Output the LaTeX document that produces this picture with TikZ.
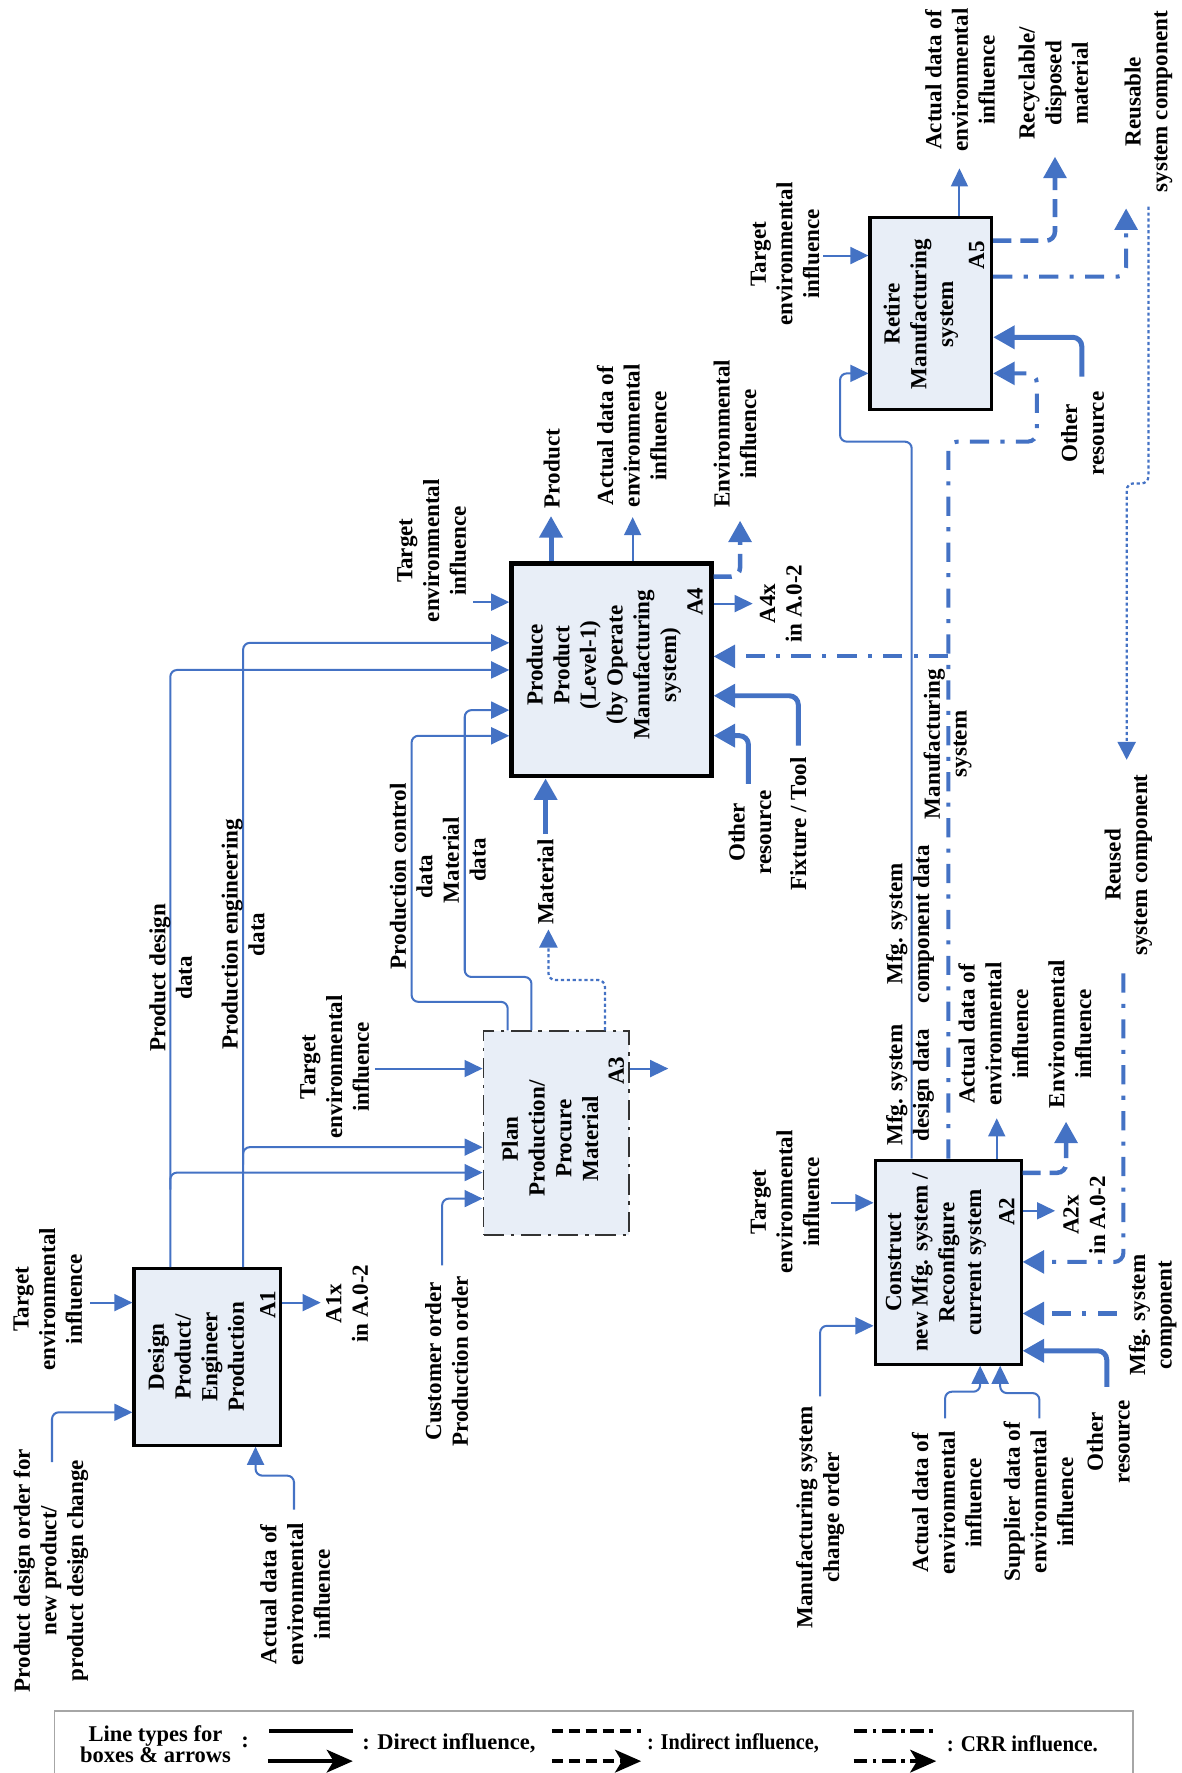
\documentclass[tikz,border=0pt]{standalone}
\usepackage{fontspec}
\setmainfont{Liberation Serif}
\usetikzlibrary{arrows.meta}
\definecolor{myblue}{RGB}{68,114,196}
\definecolor{boxfill}{RGB}{232,238,247}
\newcommand\lblfont{\bfseries\fontsize{10.2}{11.8}\selectfont}
\newcommand\legfont{\bfseries\fontsize{9.95}{9.7}\selectfont}
\tikzset{
  procbox/.style={draw=black, fill=boxfill, inner sep=0pt},
  thinarrow/.style={draw=myblue, line width=0.9pt, rounded corners=3pt, -{Triangle[length=8pt,width=7.5pt]}},
  thinline/.style={draw=myblue, line width=0.9pt, rounded corners=3pt},
  thickarrow/.style={draw=myblue, line width=2.2pt, rounded corners=4pt, -{Triangle[length=9.5pt,width=10pt]}},
  crr/.style={draw=myblue, line width=1.8pt, dash pattern=on 8.5pt off 5pt on 1.8pt off 5pt, rounded corners=4pt},
  crrarrow/.style={crr, -{Triangle[length=9.5pt,width=10pt]}},
  indirect/.style={draw=myblue, line width=2pt, dash pattern=on 8pt off 4pt, rounded corners=4pt, -{Triangle[length=9.5pt,width=10pt]}},
  dotarrow/.style={draw=myblue, line width=1pt, dash pattern=on 1.4pt off 1.2pt, rounded corners=3pt, -{Triangle[length=8pt,width=8pt]}},
  lbl/.style={font=\lblfont, align=center, rotate=90, inner sep=0pt},
  legtext/.style={font=\legfont, align=center, inner sep=0pt},
}
\begin{document}
\begin{tikzpicture}[x=0.5pt, y=-0.5pt]
\useasboundingbox (0,0) rectangle (1044.5,1568);

% ---------------- boxes ----------------
\node[procbox, line width=1.4pt, minimum width=64.75pt, minimum height=78pt] (A1) at (183.25,1200) {};
\node[procbox, draw=black!80, line width=0.8pt, dash pattern=on 9pt off 3pt on 1.5pt off 3pt,
      minimum width=64.5pt, minimum height=90.25pt] (A3) at (492.1,1002.2) {};
\node[procbox, line width=2.1pt, minimum width=88.25pt, minimum height=93.9pt] (A4) at (540.75,592.4) {};
\node[procbox, line width=1.35pt, minimum width=53.8pt, minimum height=84.9pt] (A5) at (823.2,277.1) {};
\node[procbox, line width=1.35pt, minimum width=64.55pt, minimum height=90.2pt] (A2) at (838.45,1116.2) {};

% box texts
\node[lbl] (A1t) at (173.4,1200) {Design\\Product/\\Engineer\\Production};
\node[lbl] (A3t) at (486.5,1007) {Plan\\Production/\\Procure\\Material};
\node[lbl] (A4t) at (534,588) {Produce\\Product\\(Level-1)\\(by Operate\\Manufacturing\\system)};
\node[lbl] (A5t) at (814.4,277.8) {Retire\\Manufacturing\\system};
\node[lbl] (A2t) at (827.7,1116.5) {Construct\\new Mfg. system /\\Reconfigure\\current system};
\node[lbl] (A1n) at (236.9,1154) {A1};
\node[lbl] (A3n) at (545,947) {A3};
\node[lbl] (A4n) at (614.7,532) {A4};
\node[lbl] (A5n) at (863.8,225.5) {A5};
\node[lbl] (A2n) at (890.4,1071.6) {A2};

% ---------------- A1 connectors ----------------
\draw[thinarrow] (80,1152) -- (A1.west |- 0,1152);
\draw[thinarrow] (46,1293) |- (A1.west |- 0,1249);
\draw[thinarrow] (260,1335) -- (260,1305) -| (A1.south -| 226,0);
\draw[thinarrow] (A1.east |- 0,1152) -- (283.6,1152);
\draw[thinarrow] (A1.north -| 150.6,0) |- (A4.west |- 0,592.5);
\draw[thinarrow] (150.6,1052) |- (A3.west |- 0,1037);
\draw[thinarrow] (A1.north -| 215,0) |- (A4.west |- 0,568.5);
\draw[thinarrow] (215,1030) |- (A3.west |- 0,1014.5);

% ---------------- A3 connectors ----------------
\draw[thinarrow] (391,1119) |- (A3.west |- 0,1060);
\draw[thinarrow] (331.6,945) -- (A3.west |- 0,945);
\draw[thinarrow] (A3.east |- 0,945) -- (591,945);
\draw[thinarrow] (A3.north -| 449,0) |- (364,886) |- (A4.west |- 0,650.7);
\draw[thinarrow] (A3.north -| 470,0) |- (411,864) |- (A4.west |- 0,628);
\draw[dotarrow] (A3.north -| 535,0) |- (485,866.7) -- (485,822);
\draw[thickarrow] (482.5,737.7) -- (A4.south -| 482.5,0);

% ---------------- A4 connectors ----------------
\draw[thinarrow] (418.7,532.5) -- (A4.west |- 0,532.5);
\draw[thickarrow] (A4.north -| 487.3,0) -- (487.3,456.4);
\draw[thinarrow] (A4.north -| 559.5,0) -- (559.5,457.3);
\draw[indirect] (A4.east |- 0,510) -| (654.5,460.5);
\draw[thinarrow] (A4.east |- 0,533.8) -- (665.7,533.8);
\draw[crrarrow] (838.7,580.5) -- (A4.east |- 0,580.5);
\draw[thickarrow] (706,659.5) |- (A4.east |- 0,615.3);
\draw[thickarrow] (661.9,693.3) |- (A4.east |- 0,650.6);

% ---------------- A2 connectors ----------------
\draw[thinarrow] (734.7,1063.7) -- (A2.west |- 0,1063.7);
\draw[thinarrow] (725.3,1235) |- (A2.west |- 0,1172.5);
\draw[thinarrow] (835.8,1254.4) |- (866.8,1230.8) -- (A2.south -| 866.8,0);
\draw[thinarrow] (919.2,1254.4) |- (884.5,1232) -- (A2.south -| 884.5,0);
\draw[thickarrow] (978.8,1226.4) |- (A2.east |- 0,1194.6);
\draw[crrarrow] (987.6,1161.6) -- (A2.east |- 0,1161.6);
\draw[crrarrow] (993.5,860.8) |- (A2.east |- 0,1116);
\draw[thinarrow] (A2.east |- 0,1070.8) -- (933.1,1070.8);
\draw[indirect] (A2.east |- 0,1037.2) -| (942.8,992);
\draw[thinarrow] (A2.north -| 881.5,0) -- (881.5,989);
\draw[thinarrow] (A2.north -| 806.3,0) |- (742.9,390.6) |- (A5.west |- 0,330.2);
\draw[crrarrow] (A2.north -| 838.7,0) |- (916.9,390.6) |- (A5.east |- 0,330.2);

% ---------------- A5 connectors ----------------
\draw[thinarrow] (728.2,226) -- (A5.west |- 0,226);
\draw[thinarrow] (A5.north -| 848.5,0) -- (848.5,148.9);
\draw[indirect] (A5.east |- 0,212.9) -| (933,138.6);
\draw[crrarrow] (A5.east |- 0,244.7) -| (995.9,184.3);
\draw[thickarrow] (956.7,333) |- (A5.east |- 0,298.3);
\draw[dotarrow] (1015.6,182.8) |- (996.4,427.5) -- (996.4,672);

% ---------------- labels ----------------
\node[lbl] (tA1) at (42.3,1149) {Target\\environmental\\influence};
\node[lbl] (pdo) at (45,1389) {Product design order for\\new product/\\product design change};
\node[lbl] (adA1) at (261,1410) {Actual data of\\environmental\\influence};
\node[lbl] (a1x) at (307,1153) {A1x\\in A.0-2};
\node[lbl] (pdd) at (151,864.7) {Product design\\data};
\node[lbl] (ped) at (215,826.4) {Production engineering\\data};
\node[lbl] (tA3) at (296,943.5) {Target\\environmental\\influence};
\node[lbl] (cust) at (395,1204) {Customer order\\Production order};
\node[lbl] (pcd) at (363.7,775) {Production control\\data};
\node[lbl] (md) at (410.7,760.7) {Material\\data};
\node[lbl] (mat) at (482.5,780) {Material};
\node[lbl] (tA4) at (381.8,487) {Target\\environmental\\influence};
\node[lbl] (prod) at (488,414.4) {Product};
\node[lbl] (adA4) at (558.7,385.3) {Actual data of\\environmental\\influence};
\node[lbl] (eiA4) at (650,383.7) {Environmental\\influence};
\node[lbl] (a4x) at (690.6,533.8) {A4x\\in A.0-2};
\node[lbl] (orA4) at (663.3,736) {Other\\resource};
\node[lbl] (fix) at (706,728.7) {Fixture / Tool};
\node[lbl] (tA5) at (694.3,224.7) {Target\\environmental\\influence};
\node[lbl] (adA5) at (849,70.8) {Actual data of\\environmental\\influence};
\node[lbl] (rec) at (931.6,73.7) {Recyclable/\\disposed\\material};
\node[lbl] (reus) at (1015.6,90) {Reusable\\system component};
\node[lbl] (orA5) at (957.4,383.3) {Other\\resource};
\node[lbl] (ms) at (838,658) {Manufacturing\\system};
\node[lbl] (mscd) at (804.8,817.2) {Mfg. system\\component data};
\node[lbl] (msdd) at (804.8,959.6) {Mfg. system\\design data};
\node[lbl] (adA2o) at (878.5,914.5) {Actual data of\\environmental\\influence};
\node[lbl] (eiA2) at (946.2,914.5) {Environmental\\influence};
\node[lbl] (rused) at (997.9,765) {Reused\\system component};
\node[lbl] (tA2) at (694.3,1062.8) {Target\\environmental\\influence};
\node[lbl] (a2x) at (959,1074.6) {A2x\\in A.0-2};
\node[lbl] (msc) at (1019.4,1163) {Mfg. system\\component};
\node[lbl] (orA2) at (980.3,1275) {Other\\resource};
\node[lbl] (mco) at (725.3,1342) {Manufacturing system\\change order};
\node[lbl] (adA2i) at (837.3,1329) {Actual data of\\environmental\\influence};
\node[lbl] (sup) at (918.4,1328) {Supplier data of\\environmental\\influence};

% ---------------- legend ----------------
\draw[draw=black!35, line width=0.7pt] (48.3,1572) -- (48.3,1513) -- (1002,1513) -- (1002,1572);
\node[legtext] (lg1) at (137.5,1542.5) {Line types for\\boxes \& arrows};
\node[legtext] (lgc) at (216.7,1540.5) {:};
\draw[black, line width=1.8pt] (238,1530.7) -- (312,1530.7);
\draw[black, line width=1.8pt, -{Stealth[length=11.5pt,width=10pt,inset=3pt]}] (237,1557.5) -- (312,1557.5);
\node[legtext, anchor=west] (lgd) at (320,1542) {: Direct influence,};
\draw[black, line width=1.8pt, dash pattern=on 5pt off 2.5pt] (488,1530.7) -- (567,1530.7);
\draw[black, line width=1.8pt, dash pattern=on 5pt off 2.5pt, -{Stealth[length=11.5pt,width=10pt,inset=3pt]}] (488,1557.5) -- (567,1557.5);
\node[legtext, anchor=west, xscale=0.9] (lgi) at (572,1542) {: Indirect influence,};
\draw[black, line width=1.8pt, dash pattern=on 6pt off 2.5pt on 1.5pt off 2.5pt] (755,1530.7) -- (828,1530.7);
\draw[black, line width=1.8pt, dash pattern=on 6pt off 2.5pt on 1.5pt off 2.5pt, -{Stealth[length=11.5pt,width=10pt,inset=3pt]}] (755,1557.5) -- (828,1557.5);
\node[legtext, anchor=west, xscale=0.93] (lgr) at (837,1542) {: CRR influence.};
\end{tikzpicture}
\end{document}
